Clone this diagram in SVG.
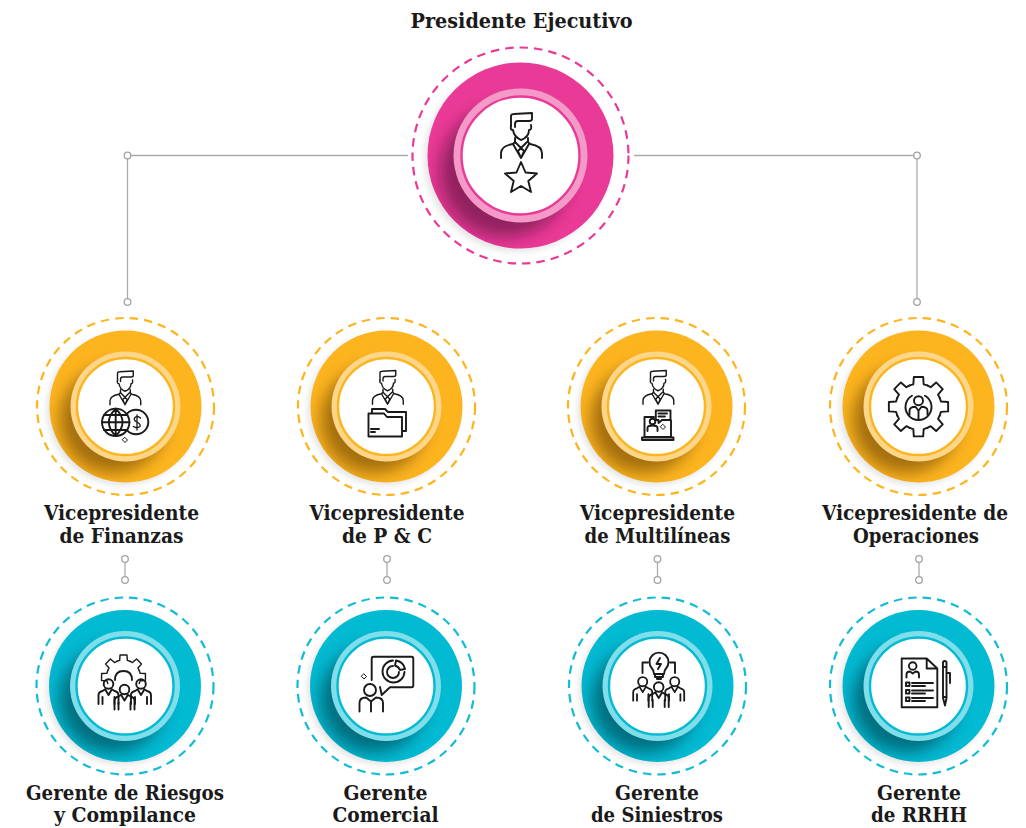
<svg xmlns="http://www.w3.org/2000/svg" width="1026" height="828" viewBox="0 0 1026 828">
<style>
text{font-family:"DejaVu Serif Condensed","DejaVu Serif","Liberation Serif",serif;font-weight:700;font-size:20.5px;fill:#1a1a1a;text-anchor:middle}
.i{fill:none;stroke:#1a1a1a;stroke-width:1.9;stroke-linecap:round;stroke-linejoin:round}
.con line,.con path{fill:none;stroke:#ababab;stroke-width:1.3}
.con circle{fill:#fff;stroke:#a3a3a3;stroke-width:1.3}
.d{fill:none;stroke-width:2.2;stroke-dasharray:8.500 6}
.w{fill:#fff;stroke-width:2.4}
.pk .d{stroke:#ea3a97}.pk .o{fill:#ea3a97}.pk .r{fill:#f49ac8}.pk .w{stroke:#ea3a97}
.ye .d{stroke:#fdb51f}.ye .o{fill:#fdb51f}.ye .r{fill:#fed68a}.ye .w{stroke:#fdb51f}
.te .d{stroke:#12bcd4}.te .o{fill:#03bad3}.te .r{fill:#7fdeea}.te .w{stroke:#03bad3}
</style>
<defs>
<filter id="b1" x="-50%" y="-50%" width="200%" height="200%"><feGaussianBlur stdDeviation="8"/></filter>
<filter id="b2" x="-50%" y="-50%" width="200%" height="200%"><feGaussianBlur stdDeviation="3"/></filter>
<clipPath id="c0"><circle cx="520.500" cy="155.500" r="93"/></clipPath>
<g id="person" class="i">
<path d="M-10,13V3Q-10,1-7,1L11,0V6Q11,8 8,8H-3Q-6,8-6,11V14"/>
<path d="M-10,13Q-11,17-8,17Q-7,24 0,27Q8,24 8,17Q11,17 10,12"/>
<path d="M-6,25V29L-8,31Q-20,33-20,40V45M7,25V29L9,31Q21,33 21,40V45"/>
<path d="M-8,31L0,45L8,31M-6,29L0,35L6,29M0,35L-3,38L0,45L3,38Z"/>
</g>
<g id="mini" class="i">
<circle cx="0" cy="0" r="4.800"/>
<path d="M-10,20V11Q-10,8-6,7L-3,5M10,20V11Q10,8 6,7L3,5M-6,20V13M6,20V13M-3,6L0,11L3,6"/>
</g>
<path id="sec" class="i" d="M-8.800,-21.250L-5.170,-22.410L-4.690,-29.630H4.690L5.170,-22.410L8.800,-21.250"/>
<path id="spark" class="i" style="stroke-width:1" d="M0,-2.500L2.500,0L0,2.500L-2.500,0Z"/>
</defs>

<g id="connectors" class="con">
<path d="M408,155.500H127.500V302"/>
<path d="M634,155.500H917V302"/>
<line x1="125" y1="559" x2="125" y2="580"/>
<line x1="387" y1="559" x2="387" y2="580"/>
<line x1="657.500" y1="559" x2="657.500" y2="580"/>
<line x1="919" y1="559" x2="919" y2="580"/>
<circle cx="127.500" cy="155.500" r="3.300"/><circle cx="127.500" cy="302" r="3.300"/>
<circle cx="917" cy="155.500" r="3.300"/><circle cx="917" cy="302" r="3.300"/>
<circle cx="125" cy="559" r="3.300"/><circle cx="125" cy="580" r="3.300"/>
<circle cx="387" cy="559" r="3.300"/><circle cx="387" cy="580" r="3.300"/>
<circle cx="657.500" cy="559" r="3.300"/><circle cx="657.500" cy="580" r="3.300"/>
<circle cx="919" cy="559" r="3.300"/><circle cx="919" cy="580" r="3.300"/>
</g>

<g id="presidente" class="pk">
<circle class="d" cx="520.500" cy="155.500" r="108"/>
<circle cx="517" cy="159" r="93" fill="#000" opacity=".1" filter="url(#b2)"/>
<circle class="o" cx="520.500" cy="155.500" r="93"/>
<g clip-path="url(#c0)"><circle cx="505" cy="172" r="65" fill="#4a1030" opacity=".55" filter="url(#b1)"/></g>
<circle class="r" cx="520.500" cy="155.500" r="67"/>
<circle class="w" cx="520.500" cy="155.500" r="59"/>
<use href="#person" transform="translate(521,113)"/>
<path class="i" d="M521,162L525.500,172.500L537,173.500L528.300,181L531,192L521,186L511,192L513.700,181L505,173.500L516.500,172.500Z"/>
<text x="521.500" y="28" textLength="222" lengthAdjust="spacingAndGlyphs">Presidente Ejecutivo</text>
</g>

<g id="vp-finanzas" class="ye">
<clipPath id="c1"><circle cx="125.500" cy="406.500" r="76"/></clipPath>
<circle class="d" cx="125.500" cy="406.500" r="88.500"/>
<circle cx="122.500" cy="409.500" r="76" fill="#000" opacity=".1" filter="url(#b2)"/>
<circle class="o" cx="125.500" cy="406.500" r="76"/>
<g clip-path="url(#c1)"><circle cx="113" cy="420" r="53" fill="#5a3500" opacity=".55" filter="url(#b1)"/></g>
<circle class="r" cx="125.500" cy="406.500" r="55"/>
<circle class="w" cx="125.500" cy="406.500" r="48.500"/>
<use href="#person" transform="translate(125,371) scale(.75)"/>
<circle class="i" cx="136" cy="422" r="12.300" style="fill:#fff"/>
<circle class="i" cx="115.700" cy="422.300" r="13.700" style="fill:#fff"/>
<path class="i" d="M102,422.300H129.400M104,415H127.500M104,430H127.500M115.700,408.600V436M115.700,408.600Q102,422 115.700,436M115.700,408.600Q129.400,422 115.700,436"/>
<path class="i" style="stroke-width:1.300" d="M140.500,418Q137,415 134.500,418Q133.500,420.500 137,422Q141,424 140,426.500Q137,429 133.500,426.500M137,415V430"/>
<use href="#spark" transform="translate(125,440)"/>
<text x="121.500" y="520" textLength="155" lengthAdjust="spacingAndGlyphs">Vicepresidente</text>
<text x="121.500" y="543" textLength="124" lengthAdjust="spacingAndGlyphs">de Finanzas</text>
</g>

<g id="vp-pc" class="ye">
<clipPath id="c2"><circle cx="386.500" cy="406.500" r="76"/></clipPath>
<circle class="d" cx="386.500" cy="406.500" r="88.500"/>
<circle cx="383.500" cy="409.500" r="76" fill="#000" opacity=".1" filter="url(#b2)"/>
<circle class="o" cx="386.500" cy="406.500" r="76"/>
<g clip-path="url(#c2)"><circle cx="374" cy="420" r="53" fill="#5a3500" opacity=".55" filter="url(#b1)"/></g>
<circle class="r" cx="386.500" cy="406.500" r="55"/>
<circle class="w" cx="386.500" cy="406.500" r="48.500"/>
<use href="#person" transform="translate(387.500,370.500) scale(.75)"/>
<path class="i" d="M372,413V409H385L388,412H406V431H403"/>
<path class="i" d="M368.500,413.500H384L387,417H402V436.500H368.500Z"/>
<path class="i" d="M371,429H379M371,432H375"/>
<text x="387" y="520" textLength="155" lengthAdjust="spacingAndGlyphs">Vicepresidente</text>
<text x="387" y="543" textLength="90" lengthAdjust="spacingAndGlyphs">de P &amp; C</text>
</g>

<g id="vp-multilineas" class="ye">
<clipPath id="c3"><circle cx="656.500" cy="406.500" r="76"/></clipPath>
<circle class="d" cx="656.500" cy="406.500" r="88.500"/>
<circle cx="653.500" cy="409.500" r="76" fill="#000" opacity=".1" filter="url(#b2)"/>
<circle class="o" cx="656.500" cy="406.500" r="76"/>
<g clip-path="url(#c3)"><circle cx="644" cy="420" r="53" fill="#5a3500" opacity=".55" filter="url(#b1)"/></g>
<circle class="r" cx="656.500" cy="406.500" r="55"/>
<circle class="w" cx="656.500" cy="406.500" r="48.500"/>
<use href="#person" transform="translate(658,370.500) scale(.75)"/>
<path class="i" d="M654,417H644.500V437H671V420.500"/>
<path class="i" d="M642,437.500H673.500V440H642Z"/>
<path class="i" d="M655.800,410.500H670.500V420H662L658.500,423V420H655.800ZM658.500,413.500H667M658.500,416.500H665"/>
<circle class="i" cx="652.500" cy="421.500" r="2.800"/>
<path class="i" d="M647.500,431V428Q647.500,425.500 652.500,425.500Q657.500,425.500 657.500,428V431"/>
<use href="#spark" transform="translate(663,427)"/>
<text x="657.500" y="520" textLength="155" lengthAdjust="spacingAndGlyphs">Vicepresidente</text>
<text x="657.500" y="543" textLength="146" lengthAdjust="spacingAndGlyphs">de Multilíneas</text>
</g>

<g id="vp-operaciones" class="ye">
<clipPath id="c4"><circle cx="918.500" cy="406.500" r="76"/></clipPath>
<circle class="d" cx="918.500" cy="406.500" r="88.500"/>
<circle cx="915.500" cy="409.500" r="76" fill="#000" opacity=".1" filter="url(#b2)"/>
<circle class="o" cx="918.500" cy="406.500" r="76"/>
<g clip-path="url(#c4)"><circle cx="906" cy="420" r="53" fill="#5a3500" opacity=".55" filter="url(#b1)"/></g>
<circle class="r" cx="918.500" cy="406.500" r="55"/>
<circle class="w" cx="918.500" cy="406.500" r="48.500"/>
<g transform="translate(918.500,406.700)">
<use href="#sec"/><use href="#sec" transform="rotate(45)"/><use href="#sec" transform="rotate(90)"/><use href="#sec" transform="rotate(135)"/><use href="#sec" transform="rotate(180)"/><use href="#sec" transform="rotate(225)"/><use href="#sec" transform="rotate(270)"/><use href="#sec" transform="rotate(315)"/>
<circle class="i" cx="0" cy="-6" r="4.500"/>
<path class="i" d="M-6.500,-11A13,13 0 1 0 6.500,-11"/>
<path class="i" d="M-9,8V4Q-9,0-3,0L0,4L3,0Q9,0 9,4V8M0,4V12"/>
</g>
<text x="915" y="520" textLength="186" lengthAdjust="spacingAndGlyphs">Vicepresidente de</text>
<text x="916" y="543" textLength="126" lengthAdjust="spacingAndGlyphs">Operaciones</text>
</g>

<g id="ger-riesgos" class="te">
<clipPath id="c5"><circle cx="125" cy="686" r="76"/></clipPath>
<circle class="d" cx="125" cy="686" r="88.500"/>
<circle cx="122" cy="689" r="76" fill="#000" opacity=".1" filter="url(#b2)"/>
<circle class="o" cx="125" cy="686" r="76"/>
<g clip-path="url(#c5)"><circle cx="112.500" cy="699.500" r="53" fill="#00303a" opacity=".55" filter="url(#b1)"/></g>
<circle class="r" cx="125" cy="686" r="55"/>
<circle class="w" cx="125" cy="686" r="48.500"/>
<g transform="translate(123.500,677) scale(.74)">
<use href="#sec"/><use href="#sec" transform="rotate(45)"/><use href="#sec" transform="rotate(-45)"/><use href="#sec" transform="rotate(90)"/><use href="#sec" transform="rotate(-90)"/>
</g>
<path class="i" d="M115,680Q115,671 123.500,671Q132,671 132,680"/>
<use href="#mini" transform="translate(108.500,684)"/>
<use href="#mini" transform="translate(141,684)"/>
<use href="#mini" transform="translate(124.500,689.500)"/>
<text x="125" y="800" textLength="198" lengthAdjust="spacingAndGlyphs">Gerente de Riesgos</text>
<text x="125" y="822" textLength="142" lengthAdjust="spacingAndGlyphs">y Compilance</text>
</g>

<g id="ger-comercial" class="te">
<clipPath id="c6"><circle cx="386" cy="686" r="76"/></clipPath>
<circle class="d" cx="386" cy="686" r="88.500"/>
<circle cx="383" cy="689" r="76" fill="#000" opacity=".1" filter="url(#b2)"/>
<circle class="o" cx="386" cy="686" r="76"/>
<g clip-path="url(#c6)"><circle cx="373.500" cy="699.500" r="53" fill="#00303a" opacity=".55" filter="url(#b1)"/></g>
<circle class="r" cx="386" cy="686" r="55"/>
<circle class="w" cx="386" cy="686" r="48.500"/>
<path class="i" d="M371.700,680V658.500Q371.700,656.700 373.500,656.700H411.500Q413.300,656.700 413.300,658.500V685.500Q413.300,687.300 411.500,687.300H390L381.700,695L380,687"/>
<path class="i" d="M393,660.500A11,11 0 1 0 404.500,672M393,666A6,6 0 1 0 399,672M396,660.500A11,11 0 0 1 405,669L400,670Q398.500,666.500 395,665.500Z"/>
<circle class="i" cx="370" cy="690" r="6"/>
<path class="i" d="M359.500,711.500V703Q359.500,697.500 366,697.500L371,701.500L376,697.500Q383,697.500 383,703V711.500M371,701.500V711.500"/>
<use href="#spark" transform="translate(364,676.500)"/>
<text x="385.500" y="800" textLength="84" lengthAdjust="spacingAndGlyphs">Gerente</text>
<text x="385.500" y="822" textLength="106" lengthAdjust="spacingAndGlyphs">Comercial</text>
</g>

<g id="ger-siniestros" class="te">
<clipPath id="c7"><circle cx="657.500" cy="686" r="76"/></clipPath>
<circle class="d" cx="657.500" cy="686" r="88.500"/>
<circle cx="654.500" cy="689" r="76" fill="#000" opacity=".1" filter="url(#b2)"/>
<circle class="o" cx="657.500" cy="686" r="76"/>
<g clip-path="url(#c7)"><circle cx="645" cy="699.500" r="53" fill="#00303a" opacity=".55" filter="url(#b1)"/></g>
<circle class="r" cx="657.500" cy="686" r="55"/>
<circle class="w" cx="657.500" cy="686" r="48.500"/>
<path class="i" d="M654,674Q654,670.500 652,668.500A9.500,9.500 0 1 1 666,668.500Q664,670.500 664,674ZM655,674V677H663V674M657,677V679H661V677"/>
<path class="i" d="M660,658L656.500,664H661L658,669"/>
<path class="i" d="M642.500,673V662.500H648M675,673V662.500H670"/>
<use href="#mini" transform="translate(642.700,681.700) scale(.95)"/>
<use href="#mini" transform="translate(674.700,681.700) scale(.95)"/>
<use href="#mini" transform="translate(658.700,687)"/>
<text x="657" y="800" textLength="84" lengthAdjust="spacingAndGlyphs">Gerente</text>
<text x="657" y="822" textLength="132" lengthAdjust="spacingAndGlyphs">de Siniestros</text>
</g>

<g id="ger-rrhh" class="te">
<clipPath id="c8"><circle cx="918.500" cy="686" r="76"/></clipPath>
<circle class="d" cx="918.500" cy="686" r="88.500"/>
<circle cx="915.500" cy="689" r="76" fill="#000" opacity=".1" filter="url(#b2)"/>
<circle class="o" cx="918.500" cy="686" r="76"/>
<g clip-path="url(#c8)"><circle cx="906" cy="699.500" r="53" fill="#00303a" opacity=".55" filter="url(#b1)"/></g>
<circle class="r" cx="918.500" cy="686" r="55"/>
<circle class="w" cx="918.500" cy="686" r="48.500"/>
<path class="i" d="M926.700,658.500H901.700V707.300H937.300V668.500L926.700,658.500V668.500H937.300"/>
<circle class="i" cx="912.700" cy="666" r="3.800"/>
<path class="i" d="M906.500,677.500V674.500Q906.500,671.500 910,671.500L912.700,673.500L915.500,671.500Q919,671.500 919,674.500V677.500"/>
<path class="i" d="M906,682.500H909.500V686H906ZM906,690H909.500V693.500H906ZM906,697.500H909.500V701H906ZM912,683H933M912,686H925M912,690.500H933M912,693.500H925M912,698H933M912,701H925"/>
<path class="i" d="M943,662Q944.500,660 946.500,662V698L945,705.500L943,698ZM943,667H946.500M943,697H946.500M946.500,673H950V683"/>
<text x="919" y="800" textLength="84" lengthAdjust="spacingAndGlyphs">Gerente</text>
<text x="919" y="822" textLength="96" lengthAdjust="spacingAndGlyphs">de RRHH</text>
</g>
</svg>
